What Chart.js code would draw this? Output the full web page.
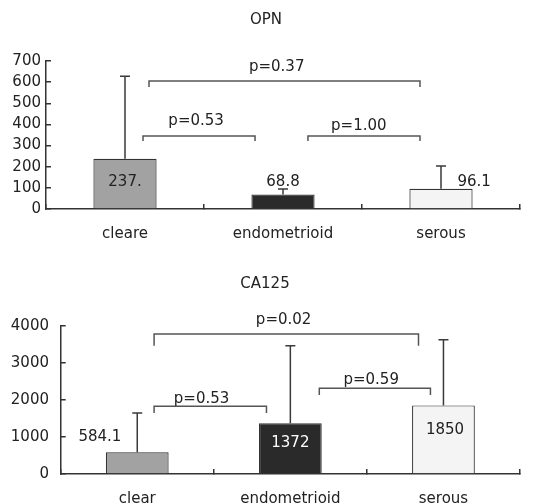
<!DOCTYPE html>
<html>
<head>
<meta charset="utf-8">
<script src="https://cdn.jsdelivr.net/npm/chart.js@4.4.1/dist/chart.umd.min.js"></script>
<style>
  body { margin: 0; background: #fff; }
  canvas { display: block; }
</style>
</head>
<body>
<canvas id="opnChart" width="542" height="252"></canvas>
<canvas id="caChart" width="542" height="252"></canvas>
<script>
// ---- OPN ----
const opnCategories = ['cleare', 'endometrioid', 'serous'];
const opnMeans = [237.4, 68.8, 96.1];
const opnUpper = [628, 95, 203];          // mean + SD
const opnValueText = ['237.', '68.8', '96.1'];
const opnPValues = ['p=0.37', 'p=0.53', 'p=1.00'];

// ---- CA125 ----
const caCategories = ['clear', 'endometrioid', 'serous'];
const caMeans = [584.1, 1372, 1850];
const caUpper = [1644, 3458, 3620];
const caValueText = ['584.1', '1372', '1850'];
const caPValues = ['p=0.02', 'p=0.53', 'p=0.59'];

const barColors = ['#a2a2a2', '#2a2a2a', '#f4f4f4'];

Chart.defaults.font.family = '"DejaVu Sans", sans-serif';
Chart.defaults.font.size = 15;
Chart.defaults.color = '#222';

// where the value texts and p-value brackets sit (index units on x, value units on y)
const opnTextPos = [
    { dx: 0, v: 135, color: '#222' },
    { dx: 0, v: 135, color: '#222' },
    { dx: 0.21, v: 135, color: '#222' }
];
const opnBracketPos = [
    { x0: 0.152, x1: 1.867, line: 605, leg: 577, tx: 0.96, ty: 681 },
    { x0: 0.114, x1: 0.823, line: 345, leg: 322, tx: 0.45, ty: 423 },
    { x0: 1.158, x1: 1.867, line: 345, leg: 322, tx: 1.48, ty: 402 }
];
const caTextPos = [
    { dx: -0.244, v: 1051, color: '#222' },
    { dx: 0, v: 876, color: '#fff' },
    { dx: 0.01, v: 1240, color: '#222' }
];
const caBracketPos = [
    { x0: 0.11, x1: 1.837, line: 3774, leg: 3458, tx: 0.956, ty: 4205 },
    { x0: 0.11, x1: 0.844, line: 1825, leg: 1644, tx: 0.42, ty: 2075 },
    { x0: 1.189, x1: 1.915, line: 2310, leg: 2129, tx: 1.528, ty: 2580 }
];

const annotate = {
    id: 'annotate',
    afterDatasetsDraw(chart, args, opts) {
        const { ctx } = chart;
        const x = chart.scales.x;
        const y = chart.scales.y;
        const means = chart.data.datasets[0].data;
        ctx.save();

        // error bars (upper only)
        ctx.lineWidth = 1.5;
        ctx.strokeStyle = '#3a3a3a';
        opts.upper.forEach((u, i) => {
            const px = x.getPixelForValue(i);
            const y0 = y.getPixelForValue(means[i]);
            const y1 = y.getPixelForValue(u);
            ctx.beginPath();
            ctx.moveTo(px, y0);
            ctx.lineTo(px, y1);
            ctx.moveTo(px - 5, y1);
            ctx.lineTo(px + 5, y1);
            ctx.stroke();
        });

        ctx.font = '15px "DejaVu Sans", sans-serif';
        ctx.textAlign = 'center';
        ctx.textBaseline = 'alphabetic';

        // value texts
        opts.valueText.forEach((t, i) => {
            const p = opts.textPos[i];
            ctx.fillStyle = p.color;
            ctx.fillText(t, x.getPixelForValue(i + p.dx), y.getPixelForValue(p.v) + 5.5);
        });

        // p-value brackets
        ctx.strokeStyle = '#555';
        ctx.lineWidth = 1.5;
        opts.pValues.forEach((t, i) => {
            const b = opts.bracketPos[i];
            const xa = x.getPixelForValue(b.x0);
            const xb = x.getPixelForValue(b.x1);
            const yl = y.getPixelForValue(b.line);
            const yg = y.getPixelForValue(b.leg);
            ctx.beginPath();
            ctx.moveTo(xa, yg);
            ctx.lineTo(xa, yl);
            ctx.lineTo(xb, yl);
            ctx.lineTo(xb, yg);
            ctx.stroke();
            ctx.fillStyle = '#222';
            ctx.fillText(t, x.getPixelForValue(b.tx), y.getPixelForValue(b.ty) + 5.5);
        });
        ctx.restore();
    }
};

function makeChart(id, cfg) {
    return new Chart(document.getElementById(id), {
        type: 'bar',
        data: {
            labels: cfg.categories,
            datasets: [{
                data: cfg.means,
                backgroundColor: barColors,
                borderColor: '#333',
                borderWidth: 1.2,
                categoryPercentage: 1,
                barPercentage: cfg.barPct
            }]
        },
        options: {
            responsive: false,
            animation: false,
            layout: { padding: { left: cfg.padLeft, right: 22, top: 0, bottom: 0 } },
            plugins: {
                legend: { display: false },
                tooltip: { enabled: false },
                title: {
                    display: true,
                    text: cfg.title,
                    color: '#222',
                    font: { size: 15, weight: 'normal', lineHeight: 1.2 },
                    padding: { top: cfg.titleTop, bottom: cfg.titleBottom }
                },
                annotate: {
                    upper: cfg.upper,
                    valueText: cfg.valueText,
                    textPos: cfg.textPos,
                    pValues: cfg.pValues,
                    bracketPos: cfg.bracketPos
                }
            },
            scales: {
                x: {
                    border: { display: true, color: '#333', width: 1.5 },
                    grid: { drawOnChartArea: false, drawTicks: true, tickLength: -5, tickColor: '#333', lineWidth: 1.5 },
                    ticks: { padding: 21, color: '#222' },
                    afterFit: (s) => { s.height = cfg.xHeight; }
                },
                y: {
                    min: 0,
                    max: cfg.max,
                    border: { display: true, color: '#333', width: 1.5 },
                    grid: { drawOnChartArea: false, drawTicks: true, tickLength: -5, tickColor: '#333', lineWidth: 1.5 },
                    ticks: { stepSize: cfg.step, padding: cfg.tickPad, color: '#222', callback: (v) => String(v) },
                    afterFit: (s) => { s.width = cfg.yWidth; }
                }
            }
        },
        plugins: [annotate]
    });
}

makeChart('opnChart', {
    title: 'OPN',
    categories: opnCategories,
    means: opnMeans,
    upper: opnUpper,
    valueText: opnValueText,
    textPos: opnTextPos,
    pValues: opnPValues,
    bracketPos: opnBracketPos,
    max: 700, step: 100,
    barPct: 0.4,
    padLeft: 12, yWidth: 34, xHeight: 43,
    titleTop: 11, titleBottom: 32,
    tickPad: 10
});

makeChart('caChart', {
    title: 'CA125',
    categories: caCategories,
    means: caMeans,
    upper: caUpper,
    valueText: caValueText,
    textPos: caTextPos,
    pValues: caPValues,
    bracketPos: caBracketPos,
    max: 4000, step: 1000,
    barPct: 0.41,
    padLeft: 10, yWidth: 50.7, xHeight: 30,
    titleTop: 23, titleBottom: 32.7,
    tickPad: 16.7
});
</script>
</body>
</html>
